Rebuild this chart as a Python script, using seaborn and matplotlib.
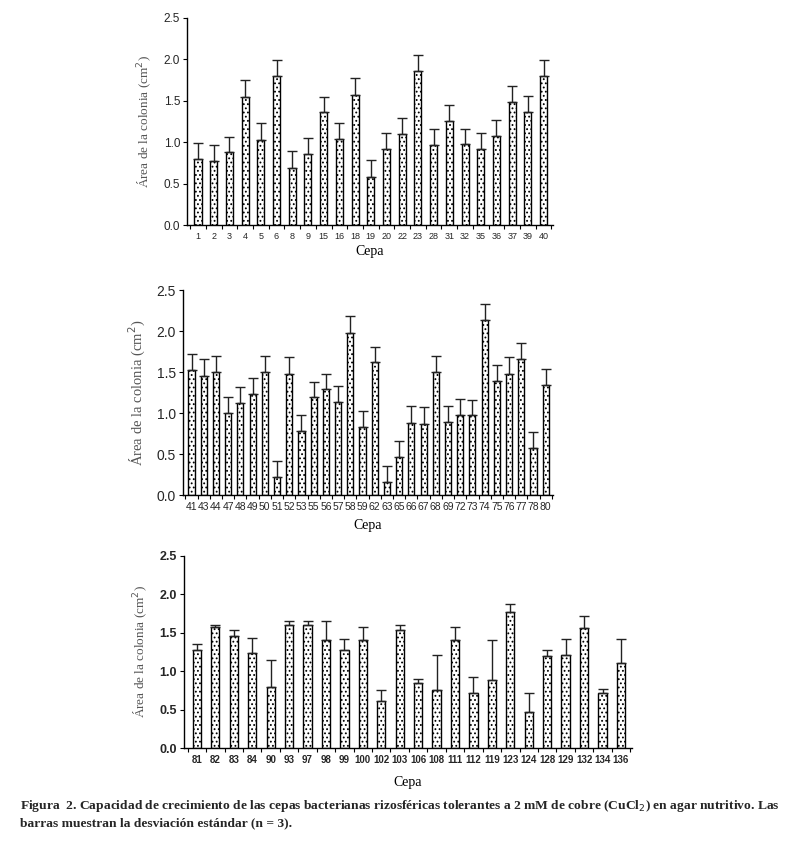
import matplotlib
matplotlib.use("Agg")
import matplotlib.pyplot as plt
import seaborn as sns
import pandas as pd
import numpy as np

# ---- data ----
cepas_1 = ["1", "2", "3", "4", "5", "6", "8", "9", "15", "16", "18", "19", "20", "22",
           "23", "28", "31", "32", "35", "36", "37", "39", "40"]
area_1 = [0.80, 0.77, 0.88, 1.55, 1.03, 1.80, 0.69, 0.86, 1.36, 1.04, 1.57, 0.58, 0.92, 1.10,
          1.86, 0.97, 1.26, 0.98, 0.92, 1.07, 1.49, 1.37, 1.80]
sd_1 = [0.19, 0.20, 0.18, 0.20, 0.20, 0.19, 0.20, 0.19, 0.19, 0.19, 0.21, 0.20, 0.19, 0.19,
        0.19, 0.19, 0.19, 0.18, 0.19, 0.20, 0.19, 0.19, 0.19]

cepas_2 = ["41", "43", "44", "47", "48", "49", "50", "51", "52", "53", "55", "56", "57", "58",
           "59", "62", "63", "65", "66", "67", "68", "69", "72", "73", "74", "75", "76", "77",
           "78", "80"]
area_2 = [1.53, 1.45, 1.50, 1.00, 1.12, 1.23, 1.50, 0.22, 1.48, 0.78, 1.19, 1.29, 1.13, 1.98,
          0.83, 1.62, 0.16, 0.46, 0.88, 0.87, 1.50, 0.89, 0.98, 0.97, 2.13, 1.39, 1.48, 1.66,
          0.57, 1.34]
sd_2 = [0.19, 0.21, 0.19, 0.19, 0.20, 0.20, 0.19, 0.19, 0.20, 0.19, 0.19, 0.19, 0.20, 0.20,
        0.20, 0.19, 0.19, 0.20, 0.20, 0.20, 0.19, 0.20, 0.19, 0.19, 0.20, 0.20, 0.20, 0.19,
        0.20, 0.20]

cepas_3 = ["81", "82", "83", "84", "90", "93", "97", "98", "99", "100", "102", "103", "106",
           "108", "111", "112", "119", "123", "124", "128", "129", "132", "134", "136"]
area_3 = [1.27, 1.58, 1.46, 1.24, 0.80, 1.60, 1.60, 1.41, 1.28, 1.41, 0.61, 1.53, 0.85,
          0.76, 1.41, 0.71, 0.88, 1.77, 0.47, 1.20, 1.21, 1.56, 0.72, 1.11]
sd_3 = [0.09, 0.02, 0.08, 0.19, 0.35, 0.05, 0.06, 0.24, 0.14, 0.16, 0.14, 0.07, 0.05,
        0.45, 0.16, 0.21, 0.53, 0.11, 0.24, 0.08, 0.21, 0.16, 0.05, 0.31]

y_ticks = [0.0, 0.5, 1.0, 1.5, 2.0, 2.5]
ylabel = "Área de la colonia (cm$^2$)"
xlabel = "Cepa"
caption_1 = ("Figura  2. Capacidad de crecimiento de las cepas bacterianas rizosféricas tolerantes "
             "a 2 mM de cobre (CuCl$_2$) en agar nutritivo. Las")
caption_2 = "barras muestran la desviación estándar (n = 3)."

sns.set_theme(style="ticks")
plt.rcParams["font.family"] = ["Liberation Sans", "DejaVu Sans"]
plt.rcParams["hatch.linewidth"] = 0.8
plt.rcParams["hatch.color"] = "#333333"

W, H = 791, 847
fig = plt.figure(figsize=(W / 100, H / 100), dpi=100)


def px_axes(l, r, t, b):
    return fig.add_axes([l / W, 1 - b / H, (r - l) / W, (b - t) / H])


panels = [
    dict(cats=cepas_1, vals=area_1, sd=sd_1, box=(187, 553, 18, 225), width=0.45,
         ytick_fs=8.5, xtick_fs=6.5, bold=False, xlab_pad=3, ylab_fs=9.5),
    dict(cats=cepas_2, vals=area_2, sd=sd_2, box=(183, 553, 290, 495), width=0.5,
         ytick_fs=10, xtick_fs=7.5, bold=False, xlab_pad=5, ylab_fs=10.5),
    dict(cats=cepas_3, vals=area_3, sd=sd_3, box=(184, 632, 556, 748), width=0.45,
         ytick_fs=9, xtick_fs=7, bold=True, xlab_pad=8, ylab_fs=9.5),
]

for p in panels:
    ax = px_axes(*p["box"])
    df = pd.DataFrame({"Cepa": p["cats"], "Area": p["vals"]})
    sns.barplot(data=df, x="Cepa", y="Area", order=p["cats"], ax=ax, color="white",
                edgecolor="black", linewidth=1.0, width=p["width"], errorbar=None,
                saturation=1)
    for b in ax.patches:
        b.set_hatch("....")
    n = len(p["cats"])
    x = np.arange(n)
    ax.errorbar(x, p["vals"], yerr=[np.zeros(n), p["sd"]], fmt="none", ecolor="#222222",
                elinewidth=1.0, capsize=3.5, capthick=1.0, zorder=1)
    ax.set_xlim(-0.7, n - 0.4)
    ax.set_ylim(0, 2.5)
    ax.set_yticks(y_ticks)
    ax.set_yticklabels([f"{v:.1f}" for v in y_ticks], fontsize=p["ytick_fs"],
                       fontweight="bold" if p["bold"] else "normal")
    ax.set_xticks(x)
    ax.set_xticklabels(p["cats"], fontsize=p["xtick_fs"],
                       fontweight="bold" if p["bold"] else "normal")
    ax.tick_params(axis="x", length=0, pad=5)
    ax.set_xticks(np.arange(-0.5, n, 1.0), minor=True)
    ax.tick_params(axis="x", which="minor", length=3, width=0.8, direction="out", color="black")
    ax.tick_params(axis="y", length=3, width=0.8, direction="out", color="black", pad=2)
    for s in ["top", "right"]:
        ax.spines[s].set_visible(False)
    for s in ["left", "bottom"]:
        ax.spines[s].set_color("black")
        ax.spines[s].set_linewidth(1.0)
    ax.set_ylabel(ylabel, family=["Liberation Serif", "DejaVu Serif"], color="#555555",
                  fontsize=p["ylab_fs"], labelpad=6)
    ax.set_xlabel(xlabel, family=["Liberation Serif", "DejaVu Serif"], color="black",
                  fontsize=10, labelpad=p["xlab_pad"])
    ax.set_facecolor("white")

fig.text(20 / W, 1 - 806 / H, caption_1, family=["Liberation Serif", "DejaVu Serif"],
         fontsize=9.7, fontweight="bold", va="center", ha="left")
fig.text(20 / W, 1 - 823 / H, caption_2, family=["Liberation Serif", "DejaVu Serif"],
         fontsize=9.7, fontweight="bold", va="center", ha="left")

fig.savefig("out.png", dpi=100, facecolor="white")
